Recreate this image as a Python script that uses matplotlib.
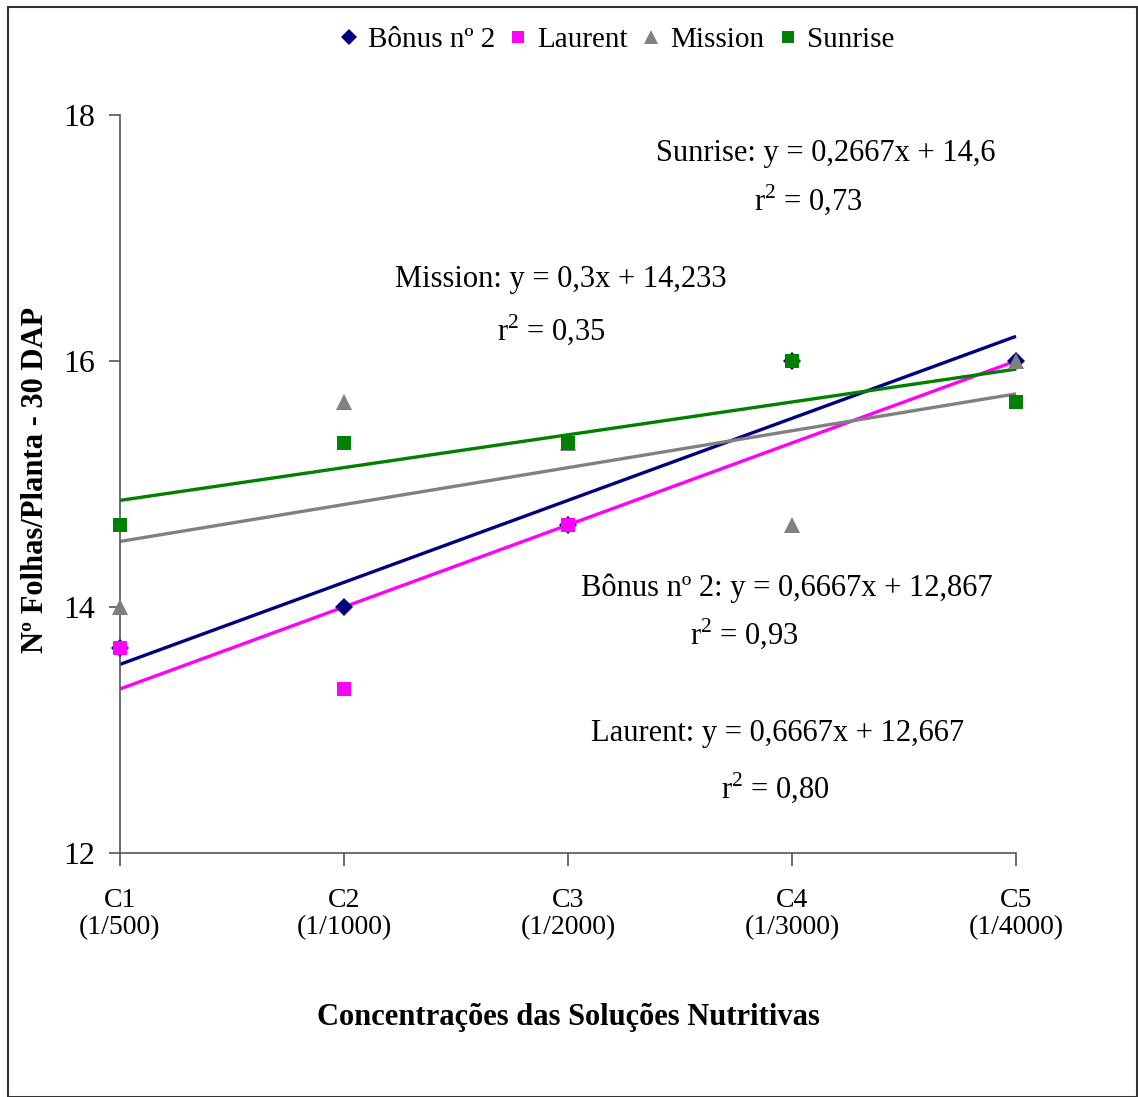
import matplotlib.pyplot as plt
from matplotlib.lines import Line2D
from matplotlib.patches import Rectangle

plt.rcParams['font.family'] = ['Liberation Serif', 'DejaVu Serif']
plt.rcParams['mathtext.fontset'] = 'custom'
plt.rcParams['mathtext.rm'] = 'Liberation Serif'

# =========================
# DADOS
# =========================
categorias = ["C1\n(1/500)", "C2\n(1/1000)", "C3\n(1/2000)", "C4\n(1/3000)", "C5\n(1/4000)"]
x = [1, 2, 3, 4, 5]

bonus = [13.67, 14.0, 14.67, 16.0, 16.0]
laurent = [13.67, 13.33, 14.67, 16.0, 15.67]
mission = [14.0, 15.67, 15.33, 14.67, 16.0]
sunrise = [14.67, 15.33, 15.33, 16.0, 15.67]

# coeficientes das retas (a, b)
reg_bonus = (0.6667, 12.867)
reg_laurent = (0.6667, 12.667)
reg_mission = (0.3, 14.233)
reg_sunrise = (0.2667, 14.6)

W, H = 1138, 1097
fig = plt.figure(figsize=(W / 100, H / 100), dpi=100)
ax = fig.add_axes([120 / W, 1 - 853 / H, (1016 - 120) / W, (853 - 115) / H])

series = [
    ("Bônus nº 2", bonus, reg_bonus, "#000080", "D", 9),
    ("Laurent", laurent, reg_laurent, "#FF00FF", "s", 9.5),
    ("Mission", mission, reg_mission, "#808080", "^", 11),
    ("Sunrise", sunrise, reg_sunrise, "#008000", "s", 9.5),
]

# retas de tendencia
for nome, ys, (a, b), cor, mk, ms in series:
    ax.plot([x[0], x[-1]], [a * x[0] + b, a * x[-1] + b], color=cor, lw=2.4,
            solid_capstyle="butt", clip_on=False, zorder=2)

# pontos
for nome, ys, reg, cor, mk, ms in series:
    ax.plot(x, ys, linestyle="none", marker=mk, color=cor, markersize=ms,
            markeredgewidth=0, clip_on=False, zorder=3)

ax.set_xlim(1, 5)
ax.set_ylim(12, 18)
ax.set_yticks([12, 14, 16, 18])
ax.set_xticks(x)
ax.set_xticklabels(categorias, fontsize=20, linespacing=1.1)
ax.tick_params(axis="y", labelsize=23, length=8, width=1.2, color="#555555", pad=10)
ax.tick_params(axis="x", length=9, width=1.2, color="#555555", pad=16)

for s in ["top", "right"]:
    ax.spines[s].set_visible(False)
for s in ["left", "bottom"]:
    ax.spines[s].set_color("#555555")
    ax.spines[s].set_linewidth(1.2)

fig.text(36 / W, 1 - 480 / H, "Nº Folhas/Planta - 30 DAP", fontsize=22, fontweight="bold",
         rotation=90, ha="center", va="center")
fig.text(568 / W, 1 - 1018 / H, "Concentrações das Soluções Nutritivas",
         fontsize=22, fontweight="bold", ha="center", va="center")

# equacoes
textos = [
    (826, 153, "Sunrise: y = 0,2667x + 14,6"),
    (808, 200, "r$^2$ = 0,73"),
    (561, 280, "Mission: y = 0,3x + 14,233"),
    (551, 330, "r$^2$ = 0,35"),
    (787, 588, "Bônus nº 2: y = 0,6667x + 12,867"),
    (744, 634, "r$^2$ = 0,93"),
    (778, 734, "Laurent: y = 0,6667x + 12,667"),
    (775, 788, "r$^2$ = 0,80"),
]
for px, py, t in textos:
    fig.text(px / W, 1 - py / H, t, fontsize=22, ha="center", va="center")

# legenda
handles = [Line2D([], [], linestyle="none", marker=mk, color=cor, markersize=ms * 0.9,
                  markeredgewidth=0)
           for nome, ys, reg, cor, mk, ms in series]
fig.legend(handles, [s[0] for s in series], loc="center", bbox_to_anchor=(617 / W, 1 - 40 / H),
           ncol=4, frameon=False, fontsize=21, handlelength=0.6, handletextpad=0.35,
           columnspacing=0.5)

# moldura
fig.add_artist(Rectangle((8 / W, 0), (W - 9) / W, 1 - 7 / H, transform=fig.transFigure,
                         fill=False, edgecolor="#333333", lw=1.5))

plt.savefig("out.png", dpi=100)
